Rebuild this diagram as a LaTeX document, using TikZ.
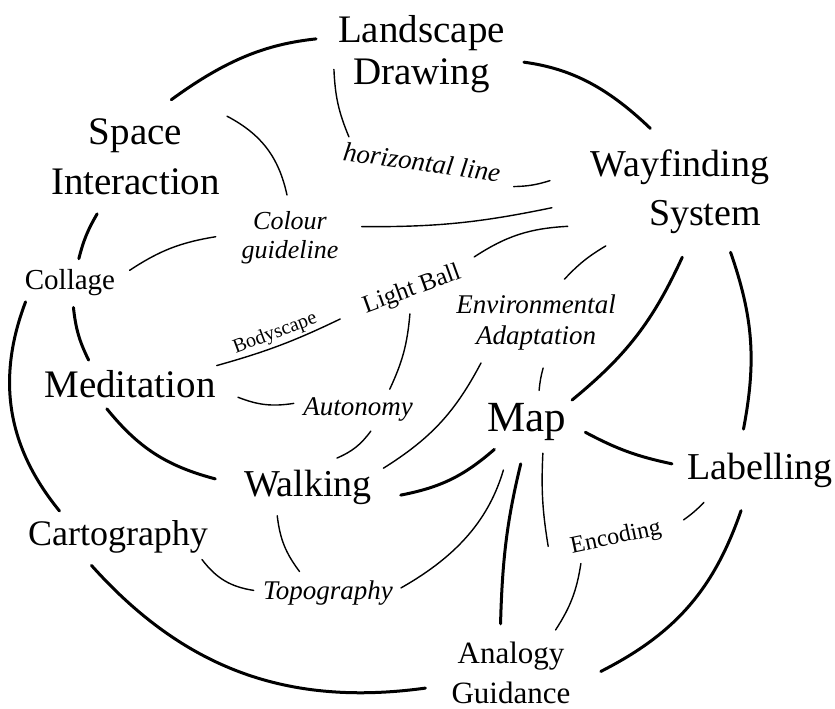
\documentclass[tikz,border=0pt]{standalone}
\usepackage{fontspec}
\setmainfont{Liberation Serif}
\usetikzlibrary{shapes.geometric}

\begin{document}
\begin{tikzpicture}[x=1pt, y=1pt, concept/.style={ellipse, inner sep=4pt, align=center}, big/.style={concept, font=\fontsize{38}{46}\selectfont}, small/.style={concept, font=\fontsize{30}{40}\selectfont}, facet/.style={concept, font=\itshape\fontsize{27}{30}\selectfont}, tilted/.style={concept, font=\fontsize{25}{30}\selectfont}, strong/.style={line width=3pt, line cap=round}, weak/.style={line width=1.4pt, line cap=round}]
\useasboundingbox (0,0) rectangle (835,-709);
\node[big, rectangle, font=\fontsize{39}{42}\selectfont] (land) at (421.5,-54) {Landscape\\Drawing};
\node[big, font=\fontsize{39}{50}\selectfont] (space) at (135.5,-157) {Space\\Interaction};
\node[big, font=\fontsize{38}{49}\selectfont] (way) at (680,-192) {Wayfinding\\\hspace*{50pt}System};
\node[small, font=\fontsize{29}{36}\selectfont] (coll) at (70,-283) {Collage};
\node[facet, font=\itshape\fontsize{26}{29}\selectfont] (colour) at (290,-238) {Colour\\guideline};
\node[facet, rotate=-8] (hline) at (422,-162) {horizontal line};
\node[tilted, rotate=20] (light) at (412,-290) {Light Ball};
\node[facet, font=\itshape\fontsize{27}{31}\selectfont] (env) at (536,-323) {Environmental\\Adaptation};
\node[big, font=\fontsize{39}{46}\selectfont] (med) at (130,-384) {Meditation};
\node[facet, inner xsep=-8pt] (auto) at (358,-409) {Autonomy};
\node[big, font=\fontsize{43}{50}\selectfont] (map) at (527,-422) {Map};
\node[big] (walk) at (308,-487) {Walking};
\node[big, inner xsep=-10pt, inner ysep=12pt] (lab) at (760,-470) {Labelling};
\node[big, font=\fontsize{36}{44}\selectfont] (carto) at (118,-537) {Cartography};
\node[tilted, font=\fontsize{24}{30}\selectfont, rotate=12] (enc) at (616,-538) {Encoding};
\node[facet, inner xsep=-12pt] (topo) at (328,-593) {Topography};
\node[small, font=\fontsize{31}{40}\selectfont] (ana) at (511,-673) {Analogy\\Guidance};
\draw[strong, shorten >=18pt] (space.58) to[bend left=15] (land.169);
\draw[strong, shorten <=15pt] (land.-4) to[bend left=18] (way.115);
\draw[strong] (space.236) to[bend right=8] (coll.70);
\draw[strong] (coll.-82) to[bend right=10] (med.150);
\draw[strong] (coll.203) to[bend right=30] (carto.156);
\draw[strong] (med.227) to[bend right=18] (walk.175);
\draw[strong] (walk.-5) to[bend right=15] (map.220);
\draw[strong] (map.26) to[bend right=13] (way.-88);
\draw[strong] (way.-50) to[bend left=15] (lab.112);
\draw[strong] (map.-10) to[bend right=8] (lab.176);
\draw[strong, shorten <=10pt] (map.263) to[bend right=6] (ana.102);
\draw[strong] (lab.245) to[bend left=22] (ana.1);
\draw[strong] (carto.227) to[bend right=28] (ana.190);
\draw[weak] (land.190) to[bend right=10] (hline.169);
\draw[weak] (hline.-7) to[bend right=8] (way.175);
\draw[weak] (space.24) to[bend left=25] (colour.94);
\draw[weak] (colour.9) to[bend right=6] (way.187);
\draw[weak] (coll.12) to[bend left=12] (colour.179);
\draw[weak] (med.12) to[bend right=5] node[pos=0.5, sloped, above, inner sep=3pt, font=\fontsize{20}{24}\selectfont] (body) {Bodyscape} (light.182);
\draw[weak] (light.8) to[bend left=15] (way.197);
\draw[weak] (light.245) to[bend left=10] (auto.32);
\draw[weak] (med.-7) to[bend right=15] (auto.175);
\draw[weak] (auto.-60) to[bend left=15] (walk.45);
\draw[weak] (walk.14) to[bend right=15] (env.216);
\draw[weak] (env.57) to[bend left=8] (way.216);
\draw[weak] (env.-81) to[bend right=5] (map.69);
\draw[weak, shorten <=18pt] (map.239) to[bend left=22] (topo.4);
\draw[weak] (walk.223) to[bend right=15] (topo.143);
\draw[weak] (carto.-15) to[bend right=22] (topo.178);
\draw[weak] (map.-63) to[bend right=6] (enc.175);
\draw[weak] (enc.3) to[bend right=5] (lab.210);
\draw[weak] (enc.204) to[bend left=12] (ana.44);
\end{tikzpicture}
\end{document}
